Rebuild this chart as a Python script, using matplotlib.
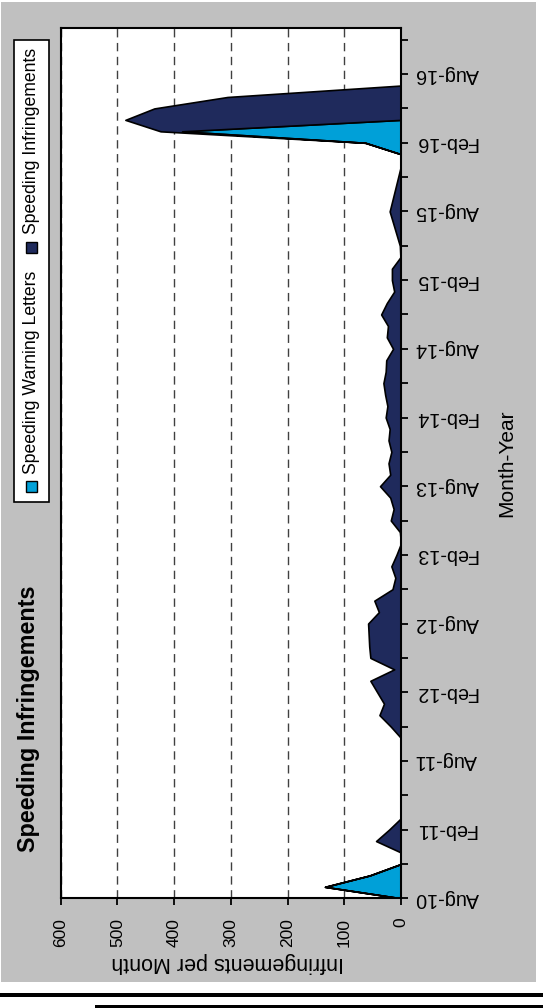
import numpy as np
import pandas as pd
import matplotlib
matplotlib.use("Agg")
import matplotlib.pyplot as plt
from matplotlib.patches import Rectangle

plt.rcParams["font.family"] = ["Liberation Sans", "DejaVu Sans"]

# datos mensuales: Aug-10 .. Jul-16
months = pd.date_range("2010-08-01", "2016-07-01", freq="MS")
speeding_infringements = [
    0, 0, 0, 0, 0, 44, 21, 0, 0, 0, 0, 0,
    0, 0, 0, 18, 38, 30, 42, 54, 12, 54, 56, 57,
    58, 39, 47, 15, 10, 17, 8, 0, 2, 18, 13, 19,
    37, 19, 22, 17, 22, 20, 27, 24, 28, 31, 27, 26,
    14, 25, 23, 35, 25, 12, 16, 16, 1, 2, 8, 14,
    20, 15, 10, 5, 0, 0, 0, 38, 486, 435, 306, 0,
]
warning_letters = [
    0, 134, 55, 0, 0, 0, 0, 0, 0, 0, 0, 0,
    0, 0, 0, 0, 0, 0, 0, 0, 0, 0, 0, 0,
    0, 0, 0, 0, 0, 0, 0, 0, 0, 0, 0, 0,
    0, 0, 0, 0, 0, 0, 0, 0, 0, 0, 0, 0,
    0, 0, 0, 0, 0, 0, 0, 0, 0, 0, 0, 0,
    0, 0, 0, 0, 0, 0, 63, 386, 0, 0, 0, 0,
]
value_ticks = [0, 100, 200, 300, 400, 500, 600]
tick_months = pd.date_range("2010-08-01", "2016-11-01", freq="3MS")

W, H = 543, 1008
fig = plt.figure(figsize=(W / 100, H / 100), dpi=100)


def box(x0, y0, x1, y1, **kw):
    # rectangulo en pixeles (origen arriba-izquierda)
    r = Rectangle((x0 / W, 1 - y1 / H), (x1 - x0) / W, (y1 - y0) / H,
                  transform=fig.transFigure, **kw)
    fig.patches.append(r)


box(1, 2, 536, 982, facecolor="#C0C0C0", edgecolor="none", zorder=-5)
box(0, 993, 543, 996.5, facecolor="black", edgecolor="none")
box(95, 1005, 543, 1009, facecolor="black", edgecolor="none")

ax = fig.add_axes([60.7 / W, 1 - 898.3 / H, 340.3 / W, 870 / H])
ax.set_zorder(2)
ax.set_facecolor("white")

m = np.arange(len(months))
wl = np.array(warning_letters)
si = np.array(speeding_infringements)
ax.fill_betweenx(m, 0, wl, facecolor="#00A0D8", edgecolor="black", lw=1.2, zorder=3)
ax.fill_betweenx(m, wl, wl + si, facecolor="#1F2A5C", edgecolor="black", lw=1.2, zorder=3)

ax.set_xlim(600, 0)
ax.set_ylim(0, 76)
ax.set_xticks(value_ticks)
ax.set_xticklabels([str(v) for v in value_ticks])
ax.grid(axis="x", linestyle=(0, (6, 4)), color="#404040", lw=1, zorder=1)
ax.set_axisbelow(True)

pos = [(d.year - 2010) * 12 + d.month - 8 for d in tick_months]
labels = [d.strftime("%b-%y") if i % 2 == 0 else "" for i, d in enumerate(tick_months)]
ax.set_yticks(pos)
ax.set_yticklabels(labels)
ax.yaxis.tick_right()

ax.tick_params(axis="x", direction="out", length=5, width=1.3, pad=9,
               labelsize=12.5, labelrotation=90)
ax.tick_params(axis="y", direction="out", length=5, width=1.3, pad=5,
               labelsize=14.2, labelrotation=180)
for lbl in ax.get_yticklabels():
    lbl.set_va("center")
for s in ax.spines.values():
    s.set_linewidth(1.5)
    s.set_zorder(5)

ax.set_xlabel("Infringements per Month", fontsize=15.5, rotation=180,
              va="center", ha="center")
ax.xaxis.set_label_coords((227.8 - 60.7) / 340.3, (898.3 - 962) / 870)
ax.yaxis.set_label_position("right")
ax.set_ylabel("Month-Year", fontsize=15, rotation=90, va="center", ha="center")
ax.yaxis.set_label_coords((506.7 - 60.7) / 340.3, 0.5)

# titulo y leyenda (girados)
fig.text(29 / W, 1 - 719 / H, "Speeding Infringements", rotation=90,
         fontsize=16.8, fontweight="bold", ha="center", va="center")
box(14, 40, 49, 502, facecolor="white", edgecolor="black", lw=1.2)
box(25.5, 481, 36.5, 492, facecolor="#00A0D8", edgecolor="black", lw=1)
box(25.5, 242, 36.5, 253, facecolor="#1F2A5C", edgecolor="black", lw=1)
fig.text(31.5 / W, 1 - 372.5 / H, "Speeding Warning Letters", rotation=90,
         fontsize=12.7, ha="center", va="center")
fig.text(31.5 / W, 1 - 141 / H, "Speeding Infringements", rotation=90,
         fontsize=12.7, ha="center", va="center")

fig.savefig("out.png", dpi=100)
